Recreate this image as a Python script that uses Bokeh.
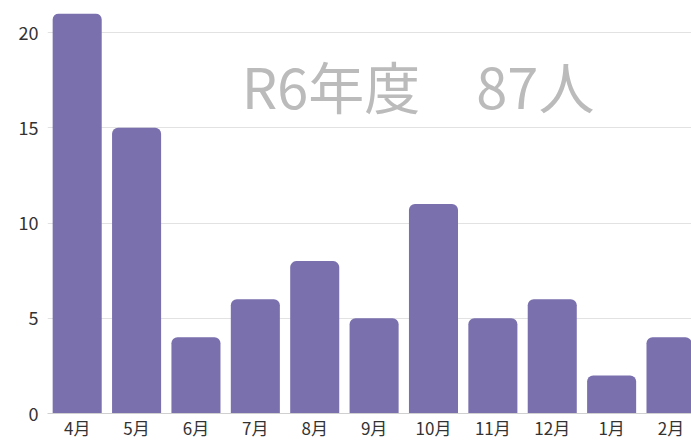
from bokeh.plotting import figure
from bokeh.models import ColumnDataSource, Range1d, FixedTicker, Label
from bokeh.embed import file_html
from bokeh.resources import INLINE

months = ["4月", "5月", "6月", "7月", "8月", "9月", "10月", "11月", "12月", "1月", "2月"]
counts = [21, 15, 4, 6, 8, 5, 11, 5, 6, 2, 4]
y_ticks = [0, 5, 10, 15, 20]
title_text = "R6年度　87人"

xs = list(range(len(months)))
src = ColumnDataSource(dict(x=xs, top=counts, label=months))

FONT = "Noto Sans CJK JP"

p = figure(width=691, height=442, output_backend="svg", toolbar_location=None,
           x_range=Range1d(-0.5, 10.345), y_range=Range1d(0, 21),
           min_border_left=47, min_border_right=0, min_border_top=13, min_border_bottom=28)
p.outline_line_color = None
p.background_fill_color = "white"

p.vbar(x="x", top="top", width=0.826, source=src, fill_color="#7a70ae",
       line_color=None, border_radius=(6, 6, 0, 0))

p.xgrid.grid_line_color = None
p.ygrid.grid_line_color = "#e2e2e2"
p.ygrid.ticker = FixedTicker(ticks=y_ticks)

p.yaxis.ticker = FixedTicker(ticks=y_ticks)
p.yaxis.axis_line_color = None
p.yaxis.major_tick_line_color = None
p.yaxis.minor_tick_line_color = None
p.yaxis.major_tick_out = 0
p.yaxis.major_tick_in = 0
p.yaxis.major_label_text_font = FONT
p.yaxis.major_label_text_font_size = "18px"
p.yaxis.major_label_text_color = "#333333"
p.yaxis.major_label_standoff = 9

p.xaxis.ticker = FixedTicker(ticks=xs)
p.xaxis.major_label_overrides = {i: m for i, m in enumerate(months)}
p.xaxis.axis_line_color = "#d0d0d0"
p.xaxis.major_tick_line_color = None
p.xaxis.minor_tick_line_color = None
p.xaxis.major_tick_out = 0
p.xaxis.major_tick_in = 0
p.xaxis.major_label_text_font = FONT
p.xaxis.major_label_text_font_size = "17px"
p.xaxis.major_label_text_color = "#333333"
p.xaxis.major_label_standoff = 1

lbl = Label(x=5.74, y=17.25, text=title_text, text_font=FONT, text_font_size="56px",
            text_color="#bbbbbb", text_align="center", text_baseline="middle")
p.add_layout(lbl)

open("out.html", "w").write(file_html(p, INLINE))
